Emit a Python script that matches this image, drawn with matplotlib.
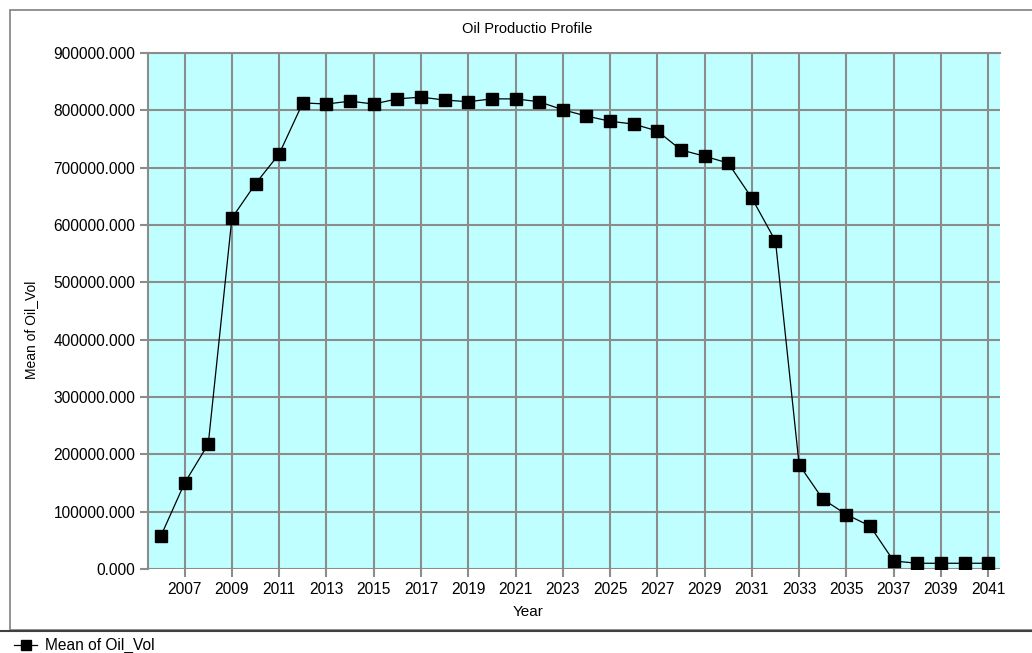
import matplotlib.pyplot as plt
from matplotlib.lines import Line2D
from matplotlib.patches import Rectangle

years = list(range(2006, 2042))
oil_vol = [58000, 150000, 218000, 612000, 672000, 724000, 813000, 811000, 816000,
           811000, 820000, 823000, 818000, 815000, 820000, 820000, 815000, 801000,
           790000, 781000, 776000, 764000, 731000, 720000, 708000, 647000, 572000,
           182000, 122000, 95000, 75000, 14000, 10000, 10000, 10000, 10000]
tick_years = list(range(2007, 2042, 2))
y_ticks = list(range(0, 900001, 100000))

W, H = 1032, 653
fig = plt.figure(figsize=(W / 100, H / 100), dpi=100)
plt.rcParams['font.family'] = ['Liberation Sans', 'DejaVu Sans']

# outer frame and legend separator
fig.add_artist(Rectangle((10 / W, 1 - 630 / H), 1.1, 620 / H, transform=fig.transFigure,
                         fill=False, edgecolor='#808080', linewidth=1.2))
fig.add_artist(Line2D([0, 1], [1 - 631 / H] * 2, transform=fig.transFigure,
                      color='#404040', linewidth=1.5))

ax = fig.add_axes([148 / W, 1 - 569 / H, (1000 - 148) / W, (569 - 53) / H])
ax.set_facecolor('#c0ffff')
ax.plot(years, oil_vol, color='black', linewidth=0.9, marker='s', markersize=8,
        markerfacecolor='black', markeredgecolor='black')

ax.set_xlim(2005.45, 2041.5)
ax.set_ylim(0, 900000)
ax.set_xticks(tick_years)
ax.set_yticks(y_ticks)
ax.set_yticklabels([f'{v:.3f}' for v in y_ticks])
ax.grid(True, color='#8c8c8c', linewidth=1.5)
ax.set_axisbelow(True)
ax.tick_params(axis='both', length=6, width=1.5, color='#8c8c8c', labelsize=11.2, pad=3)
for side, sp in ax.spines.items():
    if side in ('top', 'left'):
        sp.set_color('#8c8c8c')
        sp.set_linewidth(1.5)
    else:
        sp.set_visible(False)

fig.text(527 / W, 1 - 29 / H, 'Oil Productio Profile', fontsize=10.5, ha='center', va='center')
fig.text(528 / W, 1 - 612 / H, 'Year', fontsize=11, ha='center', va='center')
fig.text(31 / W, 1 - 330 / H, 'Mean of Oil_Vol', fontsize=10, ha='center', va='center',
         rotation=90)

# legend strip
fig.add_artist(Line2D([14 / W, 37 / W], [1 - 645 / H] * 2, transform=fig.transFigure,
                      color='black', linewidth=0.9))
fig.add_artist(Line2D([25.5 / W], [1 - 645 / H], transform=fig.transFigure,
                      marker='s', markersize=6.5, color='black'))
fig.text(45 / W, 1 - 645 / H, 'Mean of Oil_Vol', fontsize=11.2, va='center', ha='left')

fig.savefig('out.png', dpi=100)
